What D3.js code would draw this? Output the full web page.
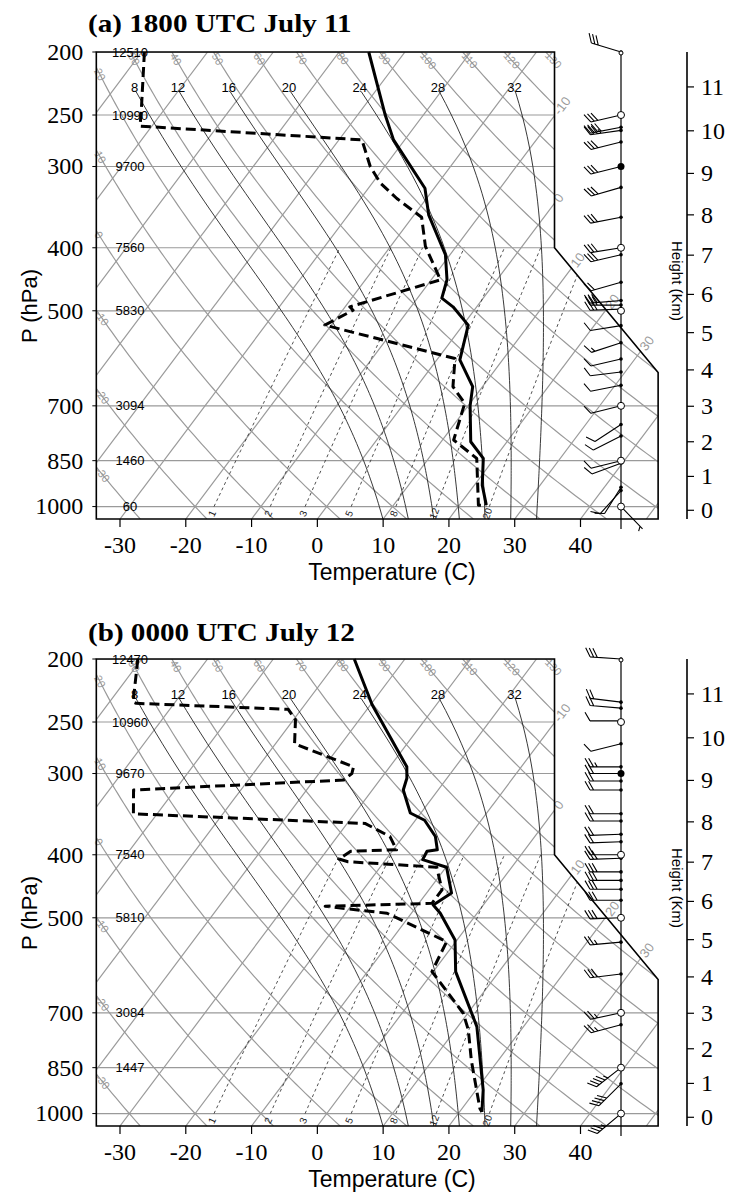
<!DOCTYPE html>
<html>
<head>
<meta charset="utf-8">
<script src="https://cdnjs.cloudflare.com/ajax/libs/d3/7.8.5/d3.min.js"></script>
<style>
  body { margin: 0; background: #fff; }
  svg { display: block; }
</style>
</head>
<body>
<svg></svg>
<script>

// ---- chart values ----
var presLevels = [1000, 850, 700, 500, 400, 300, 250, 200];
var tempTicks = [-30, -20, -10, 0, 10, 20, 30, 40];
var heightTicks = [0, 1, 2, 3, 4, 5, 6, 7, 8, 9, 10, 11];
var mixRatios = [1, 2, 3, 5, 8, 12, 20];
var moistThetaW = [8, 12, 16, 20, 24, 28, 32];
var dryTheta = d3.range(-30, 140, 10);
var isoLabelTemps = [-10, 0, 10, 20, 30];
var mandatoryWind = [250, 400, 500, 700, 850, 1000];

var titleA = "(a) 1800 UTC July 11",
    titleB = "(b) 0000 UTC July 12";

var hgtA_p = [200, 250, 300, 400, 500, 700, 850, 1000],
    hgtA_z = ["12510", "10990", "9700", "7560", "5830", "3094", "1460", "60"];
var hgtB_p = [200, 250, 300, 400, 500, 700, 850],
    hgtB_z = ["12470", "10960", "9670", "7540", "5810", "3084", "1447"];

var tempA_p = [200, 250, 273, 324, 356, 410, 448, 478, 493, 526, 595, 654, 700, 795, 843, 927, 995],
    tempA_t = [-45.5, -35.8, -31.7, -21.4, -17.8, -10.7, -7.6, -6.3, -3.6, 0.8, 3.5, 8.5, 10.3, 14.5, 18.3, 21.2, 24.1];
var dewA_p = [200, 246, 260, 273, 300, 318, 336, 359, 398, 448, 493, 499, 526, 592, 654, 694, 790, 843, 995, 995],
    dewA_td = [-79.6, -73.4, -71.8, -36.5, -32.2, -28.8, -24.5, -18.6, -14.7, -8.6, -19.3, -18.4, -21.0, 2.6, 5.5, 9.2, 11.7, 17.3, 22.9, 24.1];

var tempB_p = [200, 235, 293, 305, 318, 345, 354, 375, 393, 395, 407, 418, 458, 478, 492, 541, 605, 735, 920, 994],
    tempB_t = [-47.7, -39.8, -27.4, -26.1, -25.3, -21.6, -18.6, -15.1, -13.3, -14.7, -14.4, -9.9, -6.2, -7.6, -5.6, -0.3, 3.4, 12.9, 21.1, 23.4];
var dewB_p = [200, 233, 234, 239, 248, 270, 293, 300, 307, 318, 346, 358, 375, 393, 395, 406, 410, 418, 453, 475, 480, 492, 544, 605, 701, 744, 828, 982, 994],
    dewB_td = [-80.6, -76.4, -75.8, -52, -49.7, -47.1, -35.5, -35, -35.5, -66.3, -63.6, -27.3, -22, -19.5, -26.3, -27.2, -25.5, -11.4, -8.0, -8.0, -23.9, -13.7, -1.4, -0.2, 9.3, 12, 15.9, 22.7, 23.4];

// winds: pressure (hPa), direction (deg), speed (kt)
var windA_p   = [200, 250, 261, 264, 275, 300, 323, 359, 400, 410, 452, 482, 490, 497, 527, 560, 593, 621, 651, 700, 748, 779, 850, 858, 934, 945, 1000],
    windA_dir = [287, 257, 259, 262, 256, 256, 254, 259, 261, 257, 254, 265, 270, 268, 261, 252, 257, 263, 259, 256, 237, 243, 256, 250, 212, 222, 136],
    windA_spd = [30, 30, 40, 35, 30, 30, 30, 30, 30, 30, 20, 30, 30, 30, 10, 15, 10, 10, 10, 10, 10, 10, 10, 10, 10, 10, 5];
var windB_p   = [200, 233, 238, 249, 270, 293, 300, 308, 318, 346, 355, 372, 382, 400, 405, 425, 438, 452, 470, 500, 545, 610, 700, 730, 850, 900, 1000],
    windB_dir = [274, 277, 275, 270, 256, 270, 270, 270, 270, 270, 270, 268, 268, 270, 268, 270, 270, 270, 270, 268, 265, 263, 258, 255, 232, 225, 230],
    windB_spd = [30, 20, 20, 10, 10, 25, 20, 20, 20, 20, 20, 20, 20, 20, 30, 30, 30, 30, 30, 30, 25, 30, 25, 25, 45, 40, 35];

// ---- layout ----
var W = 732, H = 1193, panelShift = 607;
var svg = d3.select("svg").attr("width", W).attr("height", H);
var serif = "'Liberation Serif', 'Times New Roman', serif",
    sans = "'Liberation Sans', Arial, sans-serif",
    grey = "#9a9a9a";

var pTop = 200, pBot = 1045;
var y = d3.scaleLog().domain([pTop, pBot]).range([52, 519]);
var tx = d3.scaleLinear().domain([-30, 40]).range([120, 580.5]);
var skew = 0.751;
var sx = (t, p) => tx(t) + skew * (y(pBot) - y(p));

var xLeft = tx(-33.6), xMid = tx(36.05), xMax = tx(51.8), pDiag = 622;
var frame = [[xLeft, y(pTop)], [xMid, y(pTop)], [xMid, y(400)], [xMax, y(pDiag)], [xMax, y(pBot)], [xLeft, y(pBot)]];
function rightEdge(yy) {
  if (yy <= y(400)) return xMid;
  if (yy <= y(pDiag)) return xMid + (xMax - xMid) * (yy - y(400)) / (y(pDiag) - y(400));
  return xMax;
}

// thermodynamics
var K = 273.15, kappa = 0.2857;
var dryT = (th, p) => (th + K) * Math.pow(p / 1000, kappa) - K;
function esat(T) { return 6.112 * Math.exp(17.67 * (T - K) / (T - 29.65)); }
function moistRate(T, p) {
  var es = esat(T), rs = 0.622 * es / (p - es), Lv = 2.501e6, Rd = 287.04, cp = 1005.7;
  return (Rd * T + Lv * rs) / (cp + Lv * Lv * rs * 0.622 / (Rd * T * T)) / p;
}
function moistProfile(thw, pStop) {
  var h = 1, T = thw + K, Td = T, p, k1, k2, k3, k4;
  for (p = 1000; p < pBot; p += h) {
    k1 = moistRate(Td, p); k2 = moistRate(Td + h * k1 / 2, p + h / 2);
    k3 = moistRate(Td + h * k2 / 2, p + h / 2); k4 = moistRate(Td + h * k3, p + h);
    Td += h / 6 * (k1 + 2 * k2 + 2 * k3 + k4);
  }
  var out = [{p: pBot, t: Td - K}];
  for (p = 1000; p > pStop; p -= h) {
    if (p % 10 === 0) out.push({p: p, t: T - K});
    k1 = moistRate(T, p); k2 = moistRate(T - h * k1 / 2, p - h / 2);
    k3 = moistRate(T - h * k2 / 2, p - h / 2); k4 = moistRate(T - h * k3, p - h);
    T -= h / 6 * (k1 + 2 * k2 + 2 * k3 + k4);
  }
  out.push({p: pStop, t: T - K});
  return out;
}
function mixDew(w, p) {
  var e = (w / 1000) * p / (0.622 + w / 1000), l = Math.log(e / 6.112);
  return 243.5 * l / (17.67 - l);
}
function stdPres(zkm) { return 1013.25 * Math.pow(1 - 2.25577e-5 * zkm * 1000, 5.25588); }

function bisect(f, a, b) {
  var fa = f(a);
  for (var i = 0; i < 60; i++) {
    var m = (a + b) / 2, fm = f(m);
    if ((fm > 0) === (fa > 0)) { a = m; fa = fm; } else b = m;
  }
  return (a + b) / 2;
}

var logPs = d3.range(0, 101).map(i => pTop * Math.pow(pBot / pTop, i / 100));
var line = d3.line().x(d => d[0]).y(d => d[1]);

function drawBarb(g, x0, y0, dir, spd) {
  var L = 31, F = 10, gap = 3.6;
  var a = dir * Math.PI / 180, ux = Math.sin(a), uy = -Math.cos(a);
  var c = Math.cos(Math.PI / 3), s = Math.sin(Math.PI / 3);
  var fx = ux * c - uy * s, fy = ux * s + uy * c;
  var pth = d3.path();
  pth.moveTo(x0, y0); pth.lineTo(x0 + ux * L, y0 + uy * L);
  var n50 = Math.floor(spd / 50), rem = spd - 50 * n50,
      n10 = Math.floor(rem / 10), n5 = Math.round((rem - 10 * n10) / 5);
  var pos = L;
  for (var i = 0; i < n50; i++) {
    pth.moveTo(x0 + ux * pos, y0 + uy * pos);
    pth.lineTo(x0 + ux * pos + fx * F, y0 + uy * pos + fy * F);
    pth.lineTo(x0 + ux * (pos - 2 * gap), y0 + uy * (pos - 2 * gap));
    pos -= 2 * gap + 1;
  }
  for (i = 0; i < n10; i++) {
    pth.moveTo(x0 + ux * pos, y0 + uy * pos);
    pth.lineTo(x0 + ux * pos + fx * F, y0 + uy * pos + fy * F);
    pos -= gap;
  }
  if (n5) {
    if (n50 + n10 === 0) pos -= gap;
    pth.moveTo(x0 + ux * pos, y0 + uy * pos);
    pth.lineTo(x0 + ux * pos + fx * F / 2, y0 + uy * pos + fy * F / 2);
  }
  g.append("path").attr("d", pth.toString()).attr("fill", "none")
    .attr("stroke", "#000").attr("stroke-width", 1.1);
}

function drawPanel(id, shift, title, hp, hz, tp, tt, dp, dtd, wp, wdir, wspd) {
  var g = svg.append("g").attr("transform", "translate(0," + shift + ")");

  g.append("text").attr("transform", "translate(88," + (title === titleA ? 32 : 34) + ") scale(1.12,1)")
    .attr("font-family", serif).attr("font-weight", "bold").attr("font-size", 26).text(title);

  g.append("clipPath").attr("id", "clip" + id).append("polygon")
    .attr("points", frame.map(d => d.join(",")).join(" "));
  var grid = g.append("g").attr("clip-path", "url(#clip" + id + ")");

  // isobars
  presLevels.forEach(p => {
    grid.append("line").attr("x1", xLeft).attr("x2", rightEdge(y(p)))
      .attr("y1", y(p)).attr("y2", y(p)).attr("stroke", grey).attr("stroke-width", 1.2);
  });
  // isotherms
  d3.range(-120, 60, 10).forEach(t => {
    grid.append("line").attr("x1", sx(t, pBot)).attr("y1", y(pBot))
      .attr("x2", sx(t, pTop)).attr("y2", y(pTop))
      .attr("stroke", grey).attr("stroke-width", 1.2);
  });
  // dry adiabats
  dryTheta.forEach(th => {
    grid.append("path").attr("d", line(logPs.map(p => [sx(dryT(th, p), p), y(p)])))
      .attr("fill", "none").attr("stroke", grey).attr("stroke-width", 1.2);
  });
  // mixing ratio lines
  mixRatios.forEach(w => {
    var pts = d3.range(1000, 395, -10).map(p => [sx(mixDew(w, p), p), y(p)]);
    grid.append("path").attr("d", line(pts)).attr("fill", "none")
      .attr("stroke", "#222").attr("stroke-width", 0.8).attr("stroke-dasharray", "3,3");
    var x0 = pts[0][0], ang = Math.atan2(pts[5][1] - pts[0][1], pts[5][0] - pts[0][0]) * 180 / Math.PI;
    g.append("text").attr("transform", "translate(" + (x0 - 2) + "," + (y(1000) + 7) + ") rotate(" + ang + ")")
      .attr("text-anchor", "middle").attr("dy", "0.35em")
      .attr("font-family", sans).attr("font-size", 10).attr("fill", "#222").text(w);
  });
  // moist adiabats
  var pMoistTop = 229.6;
  moistThetaW.forEach(thw => {
    var prof = moistProfile(thw, pMoistTop);
    grid.append("path").attr("d", line(prof.map(d => [sx(d.t, d.p), y(d.p)])))
      .attr("fill", "none").attr("stroke", "#222").attr("stroke-width", 0.9);
    var top = prof[prof.length - 1];
    g.append("text").attr("x", sx(top.t, top.p)).attr("y", y(top.p) + 1)
      .attr("text-anchor", "middle").attr("font-family", sans).attr("font-size", 13).text(thw);
  });

  // dry adiabat labels
  dryTheta.forEach(th => {
    var xd = p => sx(dryT(th, p), p), p0;
    if (xd(pTop) >= xLeft) p0 = pTop;
    else p0 = bisect(p => xd(p) - xLeft, pTop, pBot);
    var x0 = xd(p0), y0 = y(p0);
    var ang = Math.atan2(y(p0 * 1.03) - y0, xd(p0 * 1.03) - x0) * 180 / Math.PI;
    g.append("text").attr("transform", "translate(" + x0 + "," + y0 + ") rotate(" + ang + ")")
      .attr("x", 2).attr("dy", "0.35em").attr("font-family", sans).attr("font-size", 11)
      .attr("fill", grey).text(th);
  });
  // isotherm labels on right edge
  isoLabelTemps.forEach(t => {
    var yy = bisect(v => (tx(t) + skew * (y(pBot) - v)) - rightEdge(v), y(pTop), y(pBot));
    var x0 = rightEdge(yy);
    g.append("text").attr("transform", "translate(" + x0 + "," + yy + ") rotate(" + (-Math.atan(1 / skew) * 180 / Math.PI) + ")")
      .attr("x", 3).attr("dy", "0.35em").attr("font-family", sans).attr("font-size", 13)
      .attr("fill", grey).text(t);
  });

  // frame
  g.append("polygon").attr("points", frame.map(d => d.join(",")).join(" "))
    .attr("fill", "none").attr("stroke", "#000").attr("stroke-width", 1.6);

  // pressure axis
  presLevels.forEach(p => {
    g.append("line").attr("x1", xLeft - 4).attr("x2", xLeft).attr("y1", y(p)).attr("y2", y(p))
      .attr("stroke", "#000");
    g.append("text").attr("x", xLeft - 13).attr("y", y(p)).attr("dy", "0.33em").attr("text-anchor", "end")
      .attr("font-family", serif).attr("font-size", 24).text(p);
  });
  g.append("text").attr("transform", "translate(37,306) rotate(-90)").attr("text-anchor", "middle")
    .attr("font-family", sans).attr("font-size", 22).text("P (hPa)");

  // temperature axis
  tempTicks.forEach(t => {
    g.append("line").attr("x1", tx(t)).attr("x2", tx(t)).attr("y1", y(pBot)).attr("y2", y(pBot) + 8)
      .attr("stroke", "#000").attr("stroke-width", 1.2);
    g.append("text").attr("x", tx(t)).attr("y", y(pBot) + 34).attr("text-anchor", "middle")
      .attr("font-family", serif).attr("font-size", 24).text(t);
  });
  g.append("text").attr("x", 392).attr("y", 580).attr("text-anchor", "middle")
    .attr("font-family", sans).attr("font-size", 23).text("Temperature (C)");

  // heights of mandatory levels
  hp.forEach((p, i) => {
    g.append("text").attr("x", 130).attr("y", y(p)).attr("dy", "0.35em").attr("text-anchor", "middle")
      .attr("font-family", sans).attr("font-size", 13).text(hz[i]);
  });

  // sounding
  g.append("path").attr("d", line(tp.map((p, i) => [sx(tt[i], p), y(p)])))
    .attr("fill", "none").attr("stroke", "#000").attr("stroke-width", 3).attr("stroke-linejoin", "round");
  g.append("path").attr("d", line(dp.map((p, i) => [sx(dtd[i], p), y(p)])))
    .attr("fill", "none").attr("stroke", "#000").attr("stroke-width", 3)
    .attr("stroke-dasharray", "10,5").attr("stroke-linejoin", "round");

  // wind staff and barbs
  var xs = 621;
  g.append("line").attr("x1", xs).attr("x2", xs).attr("y1", y(pTop)).attr("y2", y(pBot) + 10)
    .attr("stroke", "#000").attr("stroke-width", 1.2);
  wp.forEach((p, i) => {
    drawBarb(g, xs, y(p), wdir[i], wspd[i]);
    g.append("circle").attr("cx", xs).attr("cy", y(p)).attr("r", 1.8).attr("fill", "#000");
  });
  mandatoryWind.forEach(p => {
    g.append("circle").attr("cx", xs).attr("cy", y(p)).attr("r", 3.5)
      .attr("fill", "#fff").attr("stroke", "#000").attr("stroke-width", 1);
  });
  g.append("circle").attr("cx", xs).attr("cy", y(300)).attr("r", 3.5).attr("fill", "#000");
  g.append("circle").attr("cx", xs).attr("cy", y(pTop) + 1).attr("r", 2)
    .attr("fill", "#fff").attr("stroke", "#000");

  // height axis (standard atmosphere)
  var xh = 687;
  g.append("line").attr("x1", xh).attr("x2", xh).attr("y1", y(pTop)).attr("y2", y(pBot))
    .attr("stroke", "#000").attr("stroke-width", 1.6);
  heightTicks.forEach(z => {
    var yy = y(stdPres(z));
    g.append("line").attr("x1", xh).attr("x2", xh + 7).attr("y1", yy).attr("y2", yy)
      .attr("stroke", "#000").attr("stroke-width", 1.2);
    g.append("text").attr("x", xh + 14).attr("y", yy).attr("dy", "0.33em")
      .attr("font-family", serif).attr("font-size", 24).text(z);
  });
  g.append("text").attr("transform", "translate(672,281) rotate(90)").attr("text-anchor", "middle")
    .attr("font-family", sans).attr("font-size", 15).text("Height (Km)");
}

drawPanel("a", 0, titleA, hgtA_p, hgtA_z, tempA_p, tempA_t, dewA_p, dewA_td, windA_p, windA_dir, windA_spd);
drawPanel("b", panelShift, titleB, hgtB_p, hgtB_z, tempB_p, tempB_t, dewB_p, dewB_td, windB_p, windB_dir, windB_spd);

</script>
</body>
</html>
